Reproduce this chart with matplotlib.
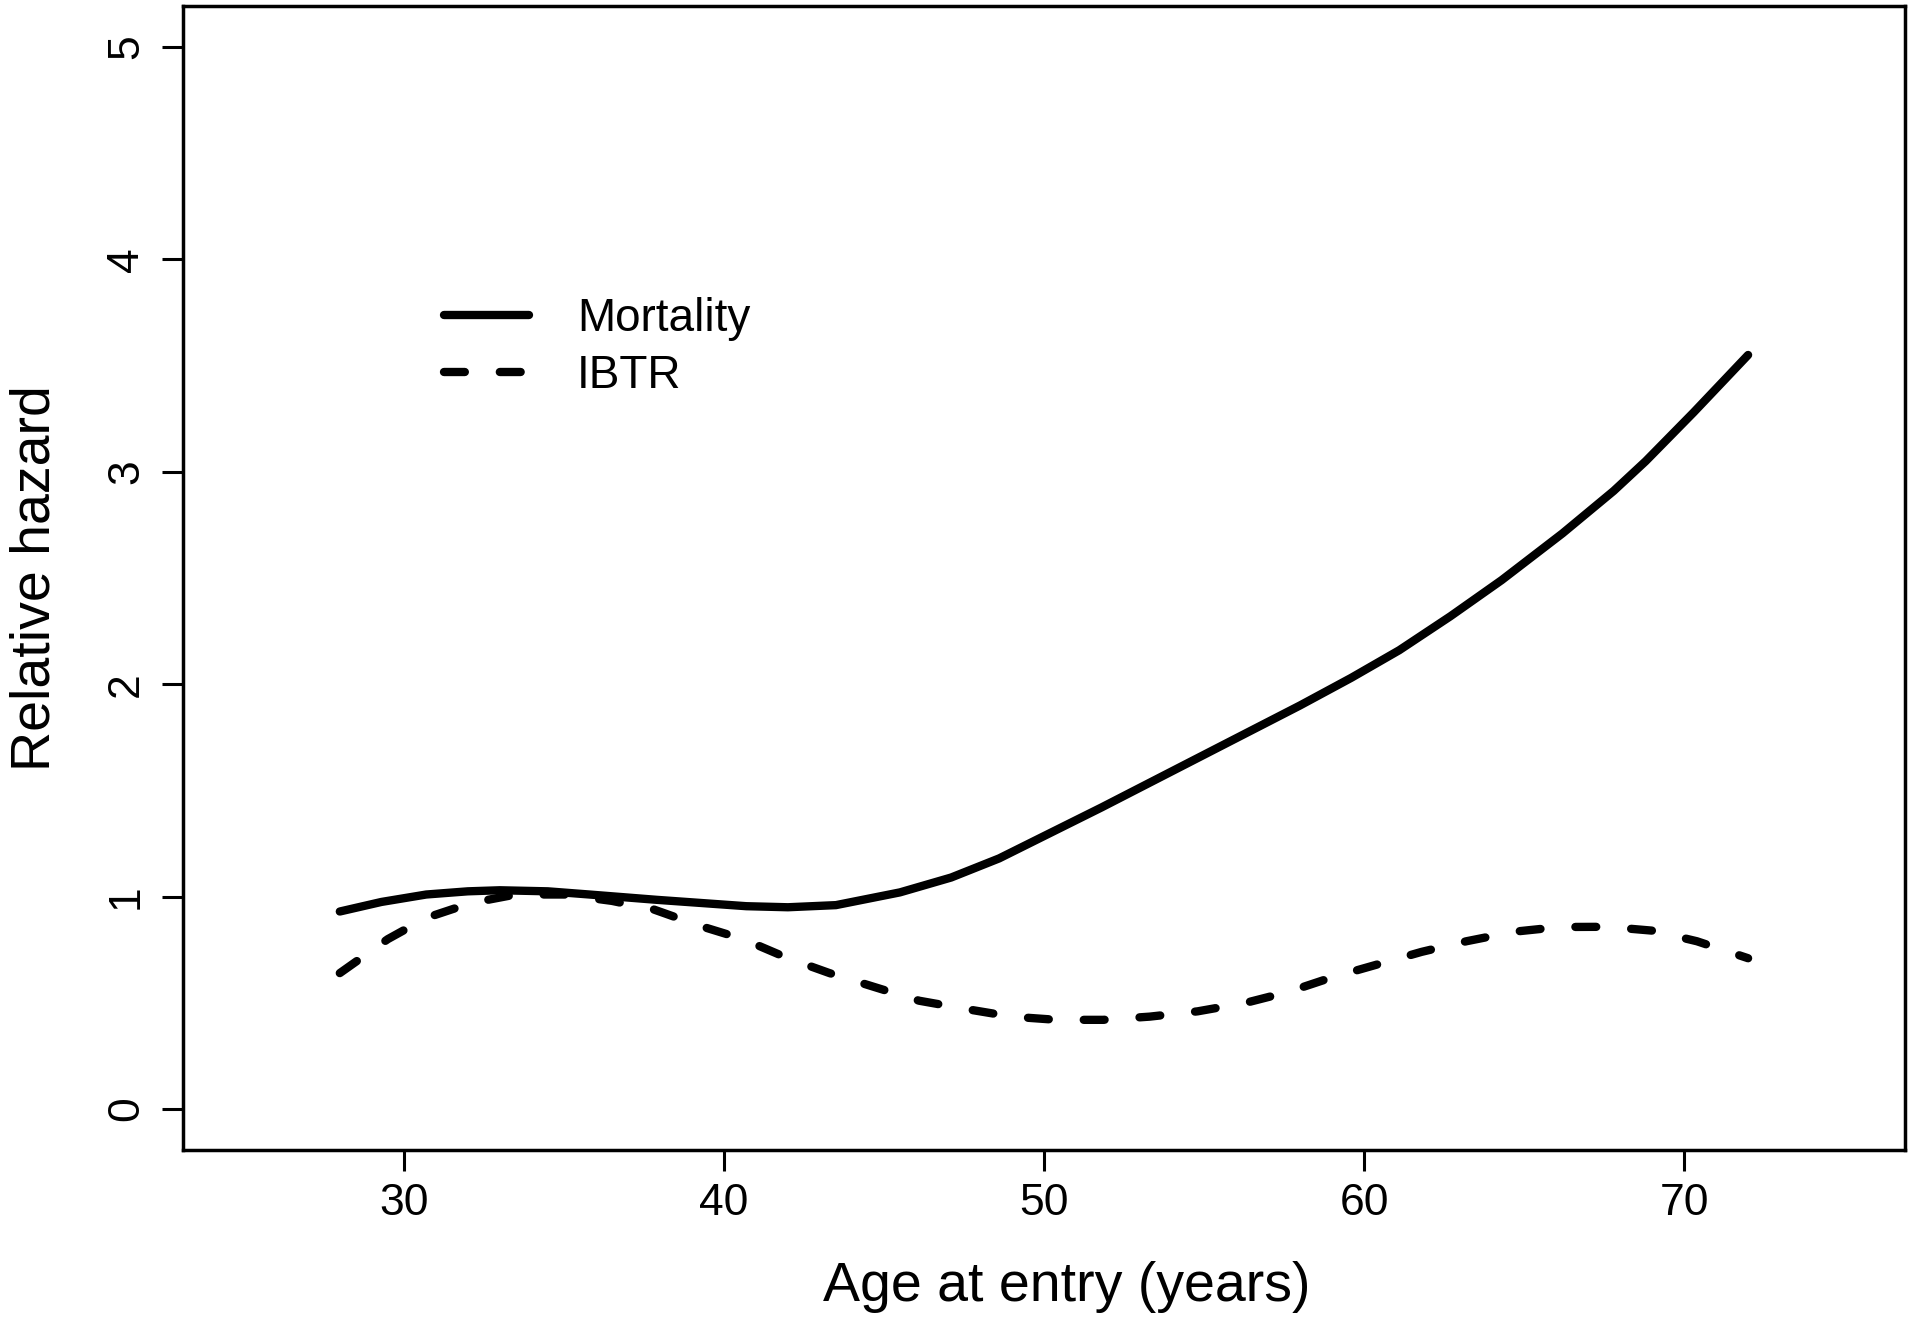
import matplotlib
matplotlib.use('Agg')
import matplotlib.pyplot as plt

############################################################
# Datos
############################################################

edad_mort = [28, 29.3, 30.7, 32, 33, 34.5, 35.8, 37.9, 40.7, 42, 43.5,
             45.5, 47.1, 48.6, 50.2, 51.8, 54.9, 58, 59.6, 61.1, 62.7,
             64.3, 66.2, 67.8, 68.8, 70.3, 72]
hazard_mort = [0.93, 0.975, 1.01, 1.025, 1.03, 1.025, 1.01, 0.985, 0.955,
               0.95, 0.96, 1.02, 1.09, 1.18, 1.30, 1.42, 1.66, 1.90, 2.03,
               2.16, 2.32, 2.49, 2.71, 2.91, 3.05, 3.28, 3.55]

edad_ibtr = [28, 29.5, 30.7, 32.1, 33.5, 35, 36.5, 37.8, 39.3, 40.6, 42,
             43.3, 44.8, 46.1, 47.6, 49, 50.4, 51.85, 53.3, 54.8, 56.3,
             57.6, 59, 60.4, 61.8, 63.2, 64.7, 66.1, 67.6, 69, 70.4, 72]
hazard_ibtr = [0.64, 0.80, 0.90, 0.97, 1.01, 1.01, 0.98, 0.94, 0.86, 0.80,
               0.71, 0.64, 0.57, 0.51, 0.47, 0.435, 0.42, 0.42, 0.435,
               0.46, 0.50, 0.55, 0.62, 0.68, 0.74, 0.79, 0.835, 0.857,
               0.858, 0.84, 0.79, 0.71]

xticks = [30, 40, 50, 60, 70]
yticks = [0, 1, 2, 3, 4, 5]

############################################################
# Figura
############################################################

plt.rcParams['font.family'] = ['Liberation Sans', 'DejaVu Sans']

fig = plt.figure(figsize=(19.12, 13.28), dpi=100)
ax = fig.add_axes([0.0957, 0.134, 0.9006, 0.8615])

ax.plot(edad_mort, hazard_mort, color='black', lw=6,
        solid_capstyle='round', solid_joinstyle='round', label='Mortality')

ax.plot(edad_ibtr, hazard_ibtr, color='black', lw=6,
        dashes=(2.5, 4.2), dash_capstyle='round', label='IBTR')

ax.set_xlim(23.1, 76.9)
ax.set_ylim(-0.193, 5.193)

ax.set_xticks(xticks)
ax.set_yticks(yticks)
ax.set_xticklabels([str(v) for v in xticks])
ax.set_yticklabels([str(v) for v in yticks], rotation=90, va='center')

ax.tick_params(axis='both', direction='out', length=15, width=2.2,
               labelsize=32, color='black')
ax.tick_params(axis='x', pad=9)
ax.tick_params(axis='y', pad=11)

for s in ax.spines.values():
    s.set_linewidth(2.5)
    s.set_color('black')

ax.set_xlabel('Age at entry (years)', fontsize=40)
ax.set_ylabel('Relative hazard', fontsize=40, labelpad=32)
ax.xaxis.set_label_coords(0.513, -0.097)

ax.legend(loc='upper left', bbox_to_anchor=(0.141, 0.762), frameon=False,
          fontsize=33, handlelength=1.85, handletextpad=1.05,
          labelspacing=0.29, borderaxespad=0)

fig.savefig('out.png', dpi=100, facecolor='white')
